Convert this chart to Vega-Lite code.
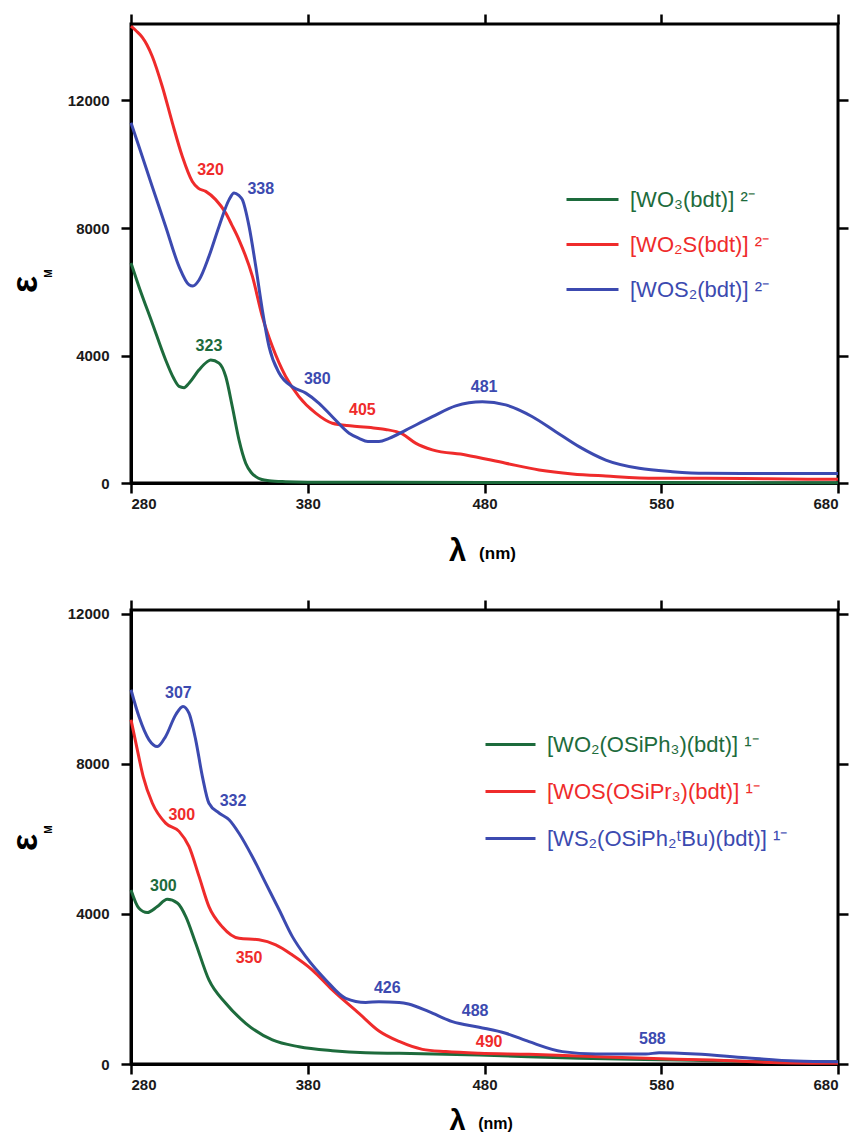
{
  "$schema": "https://vega.github.io/schema/vega-lite/v6.json",
  "padding": {"left": 5, "top": 11, "right": 0, "bottom": 0},
  "background": "white",
  "spacing": 29,
  "datasets": {
    "topCurves": [
      {"s": "[WO₃(bdt)]   ²⁻", "wl": 280, "eps": 6900}, {"s": "[WO₃(bdt)]   ²⁻", "wl": 284.5, "eps": 6160}, {"s": "[WO₃(bdt)]   ²⁻", "wl": 292, "eps": 5020}, {"s": "[WO₃(bdt)]   ²⁻", "wl": 299.6, "eps": 3860}, {"s": "[WO₃(bdt)]   ²⁻", "wl": 304, "eps": 3300}, {"s": "[WO₃(bdt)]   ²⁻", "wl": 307.2, "eps": 3030}, {"s": "[WO₃(bdt)]   ²⁻", "wl": 310, "eps": 2990}, {"s": "[WO₃(bdt)]   ²⁻", "wl": 312.8, "eps": 3130}, {"s": "[WO₃(bdt)]   ²⁻", "wl": 318.5, "eps": 3550}, {"s": "[WO₃(bdt)]   ²⁻", "wl": 323, "eps": 3800}, {"s": "[WO₃(bdt)]   ²⁻", "wl": 325.1, "eps": 3860}, {"s": "[WO₃(bdt)]   ²⁻", "wl": 329.8, "eps": 3760}, {"s": "[WO₃(bdt)]   ²⁻", "wl": 333.6, "eps": 3340}, {"s": "[WO₃(bdt)]   ²⁻", "wl": 337.3, "eps": 2400}, {"s": "[WO₃(bdt)]   ²⁻", "wl": 341.1, "eps": 1350}, {"s": "[WO₃(bdt)]   ²⁻", "wl": 344.9, "eps": 620}, {"s": "[WO₃(bdt)]   ²⁻", "wl": 348, "eps": 330}, {"s": "[WO₃(bdt)]   ²⁻", "wl": 350.6, "eps": 200}, {"s": "[WO₃(bdt)]   ²⁻", "wl": 354, "eps": 110}, {"s": "[WO₃(bdt)]   ²⁻", "wl": 358.1, "eps": 72}, {"s": "[WO₃(bdt)]   ²⁻", "wl": 367.5, "eps": 40}, {"s": "[WO₃(bdt)]   ²⁻", "wl": 380, "eps": 25}, {"s": "[WO₃(bdt)]   ²⁻", "wl": 420, "eps": 20}, {"s": "[WO₃(bdt)]   ²⁻", "wl": 480, "eps": 15}, {"s": "[WO₃(bdt)]   ²⁻", "wl": 580, "eps": 12}, {"s": "[WO₃(bdt)]   ²⁻", "wl": 680, "eps": 10},
      {"s": "[WO₂S(bdt)]   ²⁻", "wl": 280, "eps": 14330}, {"s": "[WO₂S(bdt)]   ²⁻", "wl": 283, "eps": 14180}, {"s": "[WO₂S(bdt)]   ²⁻", "wl": 286.4, "eps": 13980}, {"s": "[WO₂S(bdt)]   ²⁻", "wl": 289, "eps": 13750}, {"s": "[WO₂S(bdt)]   ²⁻", "wl": 292, "eps": 13390}, {"s": "[WO₂S(bdt)]   ²⁻", "wl": 297.7, "eps": 12440}, {"s": "[WO₂S(bdt)]   ²⁻", "wl": 303.4, "eps": 11300}, {"s": "[WO₂S(bdt)]   ²⁻", "wl": 309, "eps": 10250}, {"s": "[WO₂S(bdt)]   ²⁻", "wl": 314.7, "eps": 9460}, {"s": "[WO₂S(bdt)]   ²⁻", "wl": 318, "eps": 9250}, {"s": "[WO₂S(bdt)]   ²⁻", "wl": 322.3, "eps": 9150}, {"s": "[WO₂S(bdt)]   ²⁻", "wl": 327.9, "eps": 8890}, {"s": "[WO₂S(bdt)]   ²⁻", "wl": 333.6, "eps": 8470}, {"s": "[WO₂S(bdt)]   ²⁻", "wl": 337, "eps": 8100}, {"s": "[WO₂S(bdt)]   ²⁻", "wl": 341.1, "eps": 7630}, {"s": "[WO₂S(bdt)]   ²⁻", "wl": 348.7, "eps": 6480}, {"s": "[WO₂S(bdt)]   ²⁻", "wl": 354.3, "eps": 5220}, {"s": "[WO₂S(bdt)]   ²⁻", "wl": 360, "eps": 4280}, {"s": "[WO₂S(bdt)]   ²⁻", "wl": 367.5, "eps": 3340}, {"s": "[WO₂S(bdt)]   ²⁻", "wl": 375, "eps": 2710}, {"s": "[WO₂S(bdt)]   ²⁻", "wl": 384.5, "eps": 2190}, {"s": "[WO₂S(bdt)]   ²⁻", "wl": 393.9, "eps": 1875}, {"s": "[WO₂S(bdt)]   ²⁻", "wl": 405.2, "eps": 1790}, {"s": "[WO₂S(bdt)]   ²⁻", "wl": 418.5, "eps": 1720}, {"s": "[WO₂S(bdt)]   ²⁻", "wl": 424, "eps": 1680}, {"s": "[WO₂S(bdt)]   ²⁻", "wl": 433.5, "eps": 1540}, {"s": "[WO₂S(bdt)]   ²⁻", "wl": 441, "eps": 1250}, {"s": "[WO₂S(bdt)]   ²⁻", "wl": 450.5, "eps": 1040}, {"s": "[WO₂S(bdt)]   ²⁻", "wl": 469.4, "eps": 880}, {"s": "[WO₂S(bdt)]   ²⁻", "wl": 492, "eps": 620}, {"s": "[WO₂S(bdt)]   ²⁻", "wl": 510.9, "eps": 410}, {"s": "[WO₂S(bdt)]   ²⁻", "wl": 529.7, "eps": 285}, {"s": "[WO₂S(bdt)]   ²⁻", "wl": 548.6, "eps": 220}, {"s": "[WO₂S(bdt)]   ²⁻", "wl": 576.9, "eps": 150}, {"s": "[WO₂S(bdt)]   ²⁻", "wl": 605.2, "eps": 148}, {"s": "[WO₂S(bdt)]   ²⁻", "wl": 640, "eps": 130}, {"s": "[WO₂S(bdt)]   ²⁻", "wl": 680, "eps": 116},
      {"s": "[WOS₂(bdt)]   ²⁻", "wl": 280, "eps": 11300}, {"s": "[WOS₂(bdt)]   ²⁻", "wl": 284.5, "eps": 10560}, {"s": "[WOS₂(bdt)]   ²⁻", "wl": 292, "eps": 9300}, {"s": "[WOS₂(bdt)]   ²⁻", "wl": 299.6, "eps": 8050}, {"s": "[WOS₂(bdt)]   ²⁻", "wl": 307.2, "eps": 6790}, {"s": "[WOS₂(bdt)]   ²⁻", "wl": 312.8, "eps": 6220}, {"s": "[WOS₂(bdt)]   ²⁻", "wl": 315, "eps": 6180}, {"s": "[WOS₂(bdt)]   ²⁻", "wl": 318.5, "eps": 6370}, {"s": "[WOS₂(bdt)]   ²⁻", "wl": 324.1, "eps": 7110}, {"s": "[WOS₂(bdt)]   ²⁻", "wl": 329.8, "eps": 8050}, {"s": "[WOS₂(bdt)]   ²⁻", "wl": 335.5, "eps": 8890}, {"s": "[WOS₂(bdt)]   ²⁻", "wl": 338.3, "eps": 9100}, {"s": "[WOS₂(bdt)]   ²⁻", "wl": 341, "eps": 9020}, {"s": "[WOS₂(bdt)]   ²⁻", "wl": 343, "eps": 8890}, {"s": "[WOS₂(bdt)]   ²⁻", "wl": 346.8, "eps": 8050}, {"s": "[WOS₂(bdt)]   ²⁻", "wl": 350.6, "eps": 6790}, {"s": "[WOS₂(bdt)]   ²⁻", "wl": 354.3, "eps": 5430}, {"s": "[WOS₂(bdt)]   ²⁻", "wl": 358.1, "eps": 4280}, {"s": "[WOS₂(bdt)]   ²⁻", "wl": 363.8, "eps": 3450}, {"s": "[WOS₂(bdt)]   ²⁻", "wl": 371.3, "eps": 3020}, {"s": "[WOS₂(bdt)]   ²⁻", "wl": 378.9, "eps": 2820}, {"s": "[WOS₂(bdt)]   ²⁻", "wl": 386.4, "eps": 2500}, {"s": "[WOS₂(bdt)]   ²⁻", "wl": 393.9, "eps": 2080}, {"s": "[WOS₂(bdt)]   ²⁻", "wl": 403.4, "eps": 1560}, {"s": "[WOS₂(bdt)]   ²⁻", "wl": 409, "eps": 1400}, {"s": "[WOS₂(bdt)]   ²⁻", "wl": 414, "eps": 1300}, {"s": "[WOS₂(bdt)]   ²⁻", "wl": 420.3, "eps": 1300}, {"s": "[WOS₂(bdt)]   ²⁻", "wl": 426, "eps": 1400}, {"s": "[WOS₂(bdt)]   ²⁻", "wl": 435.5, "eps": 1660}, {"s": "[WOS₂(bdt)]   ²⁻", "wl": 450.5, "eps": 2080}, {"s": "[WOS₂(bdt)]   ²⁻", "wl": 463.7, "eps": 2420}, {"s": "[WOS₂(bdt)]   ²⁻", "wl": 478.8, "eps": 2550}, {"s": "[WOS₂(bdt)]   ²⁻", "wl": 492, "eps": 2450}, {"s": "[WOS₂(bdt)]   ²⁻", "wl": 507.1, "eps": 2080}, {"s": "[WOS₂(bdt)]   ²⁻", "wl": 520.3, "eps": 1610}, {"s": "[WOS₂(bdt)]   ²⁻", "wl": 533.5, "eps": 1140}, {"s": "[WOS₂(bdt)]   ²⁻", "wl": 548.6, "eps": 720}, {"s": "[WOS₂(bdt)]   ²⁻", "wl": 567.5, "eps": 460}, {"s": "[WOS₂(bdt)]   ²⁻", "wl": 586.3, "eps": 355}, {"s": "[WOS₂(bdt)]   ²⁻", "wl": 605.2, "eps": 305}, {"s": "[WOS₂(bdt)]   ²⁻", "wl": 642.9, "eps": 300}, {"s": "[WOS₂(bdt)]   ²⁻", "wl": 680, "eps": 300}
    ],
    "topLabels": [
      {"s": "[WO₂S(bdt)]   ²⁻", "t": "320", "wl": 325, "eps": 9830},
      {"s": "[WOS₂(bdt)]   ²⁻", "t": "338", "wl": 353.4, "eps": 9220},
      {"s": "[WO₃(bdt)]   ²⁻", "t": "323", "wl": 324.1, "eps": 4310},
      {"s": "[WOS₂(bdt)]   ²⁻", "t": "380", "wl": 385.4, "eps": 3270},
      {"s": "[WO₂S(bdt)]   ²⁻", "t": "405", "wl": 410.9, "eps": 2290},
      {"s": "[WOS₂(bdt)]   ²⁻", "t": "481", "wl": 479.8, "eps": 3005}
    ],
    "bottomCurves": [
      {"s": "[WO₂(OSiPh₃)(bdt)]   ¹⁻", "wl": 280, "eps": 4640}, {"s": "[WO₂(OSiPh₃)(bdt)]   ¹⁻", "wl": 284.5, "eps": 4150}, {"s": "[WO₂(OSiPh₃)(bdt)]   ¹⁻", "wl": 289.2, "eps": 4035}, {"s": "[WO₂(OSiPh₃)(bdt)]   ¹⁻", "wl": 294.9, "eps": 4195}, {"s": "[WO₂(OSiPh₃)(bdt)]   ¹⁻", "wl": 300.5, "eps": 4390}, {"s": "[WO₂(OSiPh₃)(bdt)]   ¹⁻", "wl": 306.2, "eps": 4290}, {"s": "[WO₂(OSiPh₃)(bdt)]   ¹⁻", "wl": 311, "eps": 3930}, {"s": "[WO₂(OSiPh₃)(bdt)]   ¹⁻", "wl": 316.6, "eps": 3220}, {"s": "[WO₂(OSiPh₃)(bdt)]   ¹⁻", "wl": 324.1, "eps": 2240}, {"s": "[WO₂(OSiPh₃)(bdt)]   ¹⁻", "wl": 333.6, "eps": 1620}, {"s": "[WO₂(OSiPh₃)(bdt)]   ¹⁻", "wl": 344.9, "eps": 1085}, {"s": "[WO₂(OSiPh₃)(bdt)]   ¹⁻", "wl": 360, "eps": 640}, {"s": "[WO₂(OSiPh₃)(bdt)]   ¹⁻", "wl": 375.1, "eps": 460}, {"s": "[WO₂(OSiPh₃)(bdt)]   ¹⁻", "wl": 393.9, "eps": 355}, {"s": "[WO₂(OSiPh₃)(bdt)]   ¹⁻", "wl": 412.8, "eps": 300}, {"s": "[WO₂(OSiPh₃)(bdt)]   ¹⁻", "wl": 431.7, "eps": 285}, {"s": "[WO₂(OSiPh₃)(bdt)]   ¹⁻", "wl": 477, "eps": 240}, {"s": "[WO₂(OSiPh₃)(bdt)]   ¹⁻", "wl": 533.5, "eps": 150}, {"s": "[WO₂(OSiPh₃)(bdt)]   ¹⁻", "wl": 590, "eps": 107}, {"s": "[WO₂(OSiPh₃)(bdt)]   ¹⁻", "wl": 646.7, "eps": 62}, {"s": "[WO₂(OSiPh₃)(bdt)]   ¹⁻", "wl": 680, "eps": 60},
      {"s": "[WOS(OSiPr₃)(bdt)]   ¹⁻", "wl": 280, "eps": 9175}, {"s": "[WOS(OSiPr₃)(bdt)]   ¹⁻", "wl": 283.2, "eps": 8460}, {"s": "[WOS(OSiPr₃)(bdt)]   ¹⁻", "wl": 286.9, "eps": 7660}, {"s": "[WOS(OSiPr₃)(bdt)]   ¹⁻", "wl": 292.1, "eps": 6950}, {"s": "[WOS(OSiPr₃)(bdt)]   ¹⁻", "wl": 299.6, "eps": 6420}, {"s": "[WOS(OSiPr₃)(bdt)]   ¹⁻", "wl": 307.2, "eps": 6200}, {"s": "[WOS(OSiPr₃)(bdt)]   ¹⁻", "wl": 312.8, "eps": 5800}, {"s": "[WOS(OSiPr₃)(bdt)]   ¹⁻", "wl": 318.5, "eps": 5000}, {"s": "[WOS(OSiPr₃)(bdt)]   ¹⁻", "wl": 324.1, "eps": 4195}, {"s": "[WOS(OSiPr₃)(bdt)]   ¹⁻", "wl": 331.6, "eps": 3660}, {"s": "[WOS(OSiPr₃)(bdt)]   ¹⁻", "wl": 341.1, "eps": 3350}, {"s": "[WOS(OSiPr₃)(bdt)]   ¹⁻", "wl": 352.4, "eps": 3310}, {"s": "[WOS(OSiPr₃)(bdt)]   ¹⁻", "wl": 361.9, "eps": 3175}, {"s": "[WOS(OSiPr₃)(bdt)]   ¹⁻", "wl": 371.3, "eps": 2905}, {"s": "[WOS(OSiPr₃)(bdt)]   ¹⁻", "wl": 382.6, "eps": 2505}, {"s": "[WOS(OSiPr₃)(bdt)]   ¹⁻", "wl": 393.9, "eps": 1975}, {"s": "[WOS(OSiPr₃)(bdt)]   ¹⁻", "wl": 409, "eps": 1350}, {"s": "[WOS(OSiPr₃)(bdt)]   ¹⁻", "wl": 420.3, "eps": 880}, {"s": "[WOS(OSiPr₃)(bdt)]   ¹⁻", "wl": 431.7, "eps": 600}, {"s": "[WOS(OSiPr₃)(bdt)]   ¹⁻", "wl": 444.9, "eps": 390}, {"s": "[WOS(OSiPr₃)(bdt)]   ¹⁻", "wl": 458.1, "eps": 330}, {"s": "[WOS(OSiPr₃)(bdt)]   ¹⁻", "wl": 477, "eps": 285}, {"s": "[WOS(OSiPr₃)(bdt)]   ¹⁻", "wl": 505.2, "eps": 260}, {"s": "[WOS(OSiPr₃)(bdt)]   ¹⁻", "wl": 533.5, "eps": 215}, {"s": "[WOS(OSiPr₃)(bdt)]   ¹⁻", "wl": 571.3, "eps": 150}, {"s": "[WOS(OSiPr₃)(bdt)]   ¹⁻", "wl": 609, "eps": 105}, {"s": "[WOS(OSiPr₃)(bdt)]   ¹⁻", "wl": 646.7, "eps": 35}, {"s": "[WOS(OSiPr₃)(bdt)]   ¹⁻", "wl": 680, "eps": 20},
      {"s": "[WS₂(OSiPh₂ᵗBu)(bdt)]   ¹⁻", "wl": 280, "eps": 9975}, {"s": "[WS₂(OSiPh₂ᵗBu)(bdt)]   ¹⁻", "wl": 284.5, "eps": 9260}, {"s": "[WS₂(OSiPh₂ᵗBu)(bdt)]   ¹⁻", "wl": 290.2, "eps": 8640}, {"s": "[WS₂(OSiPh₂ᵗBu)(bdt)]   ¹⁻", "wl": 294.9, "eps": 8460}, {"s": "[WS₂(OSiPh₂ᵗBu)(bdt)]   ¹⁻", "wl": 299.6, "eps": 8730}, {"s": "[WS₂(OSiPh₂ᵗBu)(bdt)]   ¹⁻", "wl": 305.3, "eps": 9310}, {"s": "[WS₂(OSiPh₂ᵗBu)(bdt)]   ¹⁻", "wl": 309.4, "eps": 9530}, {"s": "[WS₂(OSiPh₂ᵗBu)(bdt)]   ¹⁻", "wl": 312.8, "eps": 9350}, {"s": "[WS₂(OSiPh₂ᵗBu)(bdt)]   ¹⁻", "wl": 316.6, "eps": 8640}, {"s": "[WS₂(OSiPh₂ᵗBu)(bdt)]   ¹⁻", "wl": 320.4, "eps": 7660}, {"s": "[WS₂(OSiPh₂ᵗBu)(bdt)]   ¹⁻", "wl": 324.1, "eps": 6950}, {"s": "[WS₂(OSiPh₂ᵗBu)(bdt)]   ¹⁻", "wl": 329.8, "eps": 6690}, {"s": "[WS₂(OSiPh₂ᵗBu)(bdt)]   ¹⁻", "wl": 335.5, "eps": 6510}, {"s": "[WS₂(OSiPh₂ᵗBu)(bdt)]   ¹⁻", "wl": 341.1, "eps": 6150}, {"s": "[WS₂(OSiPh₂ᵗBu)(bdt)]   ¹⁻", "wl": 348.6, "eps": 5530}, {"s": "[WS₂(OSiPh₂ᵗBu)(bdt)]   ¹⁻", "wl": 356.2, "eps": 4820}, {"s": "[WS₂(OSiPh₂ᵗBu)(bdt)]   ¹⁻", "wl": 363.8, "eps": 4110}, {"s": "[WS₂(OSiPh₂ᵗBu)(bdt)]   ¹⁻", "wl": 371.3, "eps": 3395}, {"s": "[WS₂(OSiPh₂ᵗBu)(bdt)]   ¹⁻", "wl": 378.9, "eps": 2860}, {"s": "[WS₂(OSiPh₂ᵗBu)(bdt)]   ¹⁻", "wl": 390.2, "eps": 2240}, {"s": "[WS₂(OSiPh₂ᵗBu)(bdt)]   ¹⁻", "wl": 401.5, "eps": 1750}, {"s": "[WS₂(OSiPh₂ᵗBu)(bdt)]   ¹⁻", "wl": 412.8, "eps": 1640}, {"s": "[WS₂(OSiPh₂ᵗBu)(bdt)]   ¹⁻", "wl": 420.3, "eps": 1660}, {"s": "[WS₂(OSiPh₂ᵗBu)(bdt)]   ¹⁻", "wl": 431.7, "eps": 1640}, {"s": "[WS₂(OSiPh₂ᵗBu)(bdt)]   ¹⁻", "wl": 437, "eps": 1600}, {"s": "[WS₂(OSiPh₂ᵗBu)(bdt)]   ¹⁻", "wl": 448.6, "eps": 1395}, {"s": "[WS₂(OSiPh₂ᵗBu)(bdt)]   ¹⁻", "wl": 461.8, "eps": 1130}, {"s": "[WS₂(OSiPh₂ᵗBu)(bdt)]   ¹⁻", "wl": 477, "eps": 980}, {"s": "[WS₂(OSiPh₂ᵗBu)(bdt)]   ¹⁻", "wl": 492, "eps": 820}, {"s": "[WS₂(OSiPh₂ᵗBu)(bdt)]   ¹⁻", "wl": 505.2, "eps": 595}, {"s": "[WS₂(OSiPh₂ᵗBu)(bdt)]   ¹⁻", "wl": 524.1, "eps": 330}, {"s": "[WS₂(OSiPh₂ᵗBu)(bdt)]   ¹⁻", "wl": 543, "eps": 267}, {"s": "[WS₂(OSiPh₂ᵗBu)(bdt)]   ¹⁻", "wl": 571.3, "eps": 267}, {"s": "[WS₂(OSiPh₂ᵗBu)(bdt)]   ¹⁻", "wl": 578.8, "eps": 300}, {"s": "[WS₂(OSiPh₂ᵗBu)(bdt)]   ¹⁻", "wl": 599.6, "eps": 267}, {"s": "[WS₂(OSiPh₂ᵗBu)(bdt)]   ¹⁻", "wl": 627.9, "eps": 168}, {"s": "[WS₂(OSiPh₂ᵗBu)(bdt)]   ¹⁻", "wl": 656.2, "eps": 80}, {"s": "[WS₂(OSiPh₂ᵗBu)(bdt)]   ¹⁻", "wl": 680, "eps": 60}
    ],
    "bottomLabels": [
      {"s": "[WS₂(OSiPh₂ᵗBu)(bdt)]   ¹⁻", "t": "307", "wl": 306.8, "eps": 9885},
      {"s": "[WS₂(OSiPh₂ᵗBu)(bdt)]   ¹⁻", "t": "332", "wl": 337.7, "eps": 7020},
      {"s": "[WOS(OSiPr₃)(bdt)]   ¹⁻", "t": "300", "wl": 308.7, "eps": 6640},
      {"s": "[WO₂(OSiPh₃)(bdt)]   ¹⁻", "t": "300", "wl": 298.3, "eps": 4750},
      {"s": "[WOS(OSiPr₃)(bdt)]   ¹⁻", "t": "350", "wl": 346.8, "eps": 2820},
      {"s": "[WS₂(OSiPh₂ᵗBu)(bdt)]   ¹⁻", "t": "426", "wl": 425, "eps": 2020},
      {"s": "[WS₂(OSiPh₂ᵗBu)(bdt)]   ¹⁻", "t": "488", "wl": 474.7, "eps": 1420},
      {"s": "[WOS(OSiPr₃)(bdt)]   ¹⁻", "t": "490", "wl": 482.6, "eps": 580},
      {"s": "[WS₂(OSiPh₂ᵗBu)(bdt)]   ¹⁻", "t": "588", "wl": 575, "eps": 667}
    ]
  },
  "vconcat": [
    {
      "name": "top",
      "width": 707,
      "height": 459,
      "layer": [
        {
          "data": {"name": "topCurves"},
          "mark": {"type": "line", "strokeWidth": 3, "interpolate": "monotone"},
          "encoding": {
            "x": {"field": "wl", "type": "quantitative", "scale": {"domain": [280, 680], "nice": false, "zero": false},
                  "axis": {"orient": "bottom", "values": [280, 380, 480, 580, 680], "labelPadding": 3, "title": "λ", "titleFontSize": 31, "titleFontWeight": "bold", "titleBaseline": "alphabetic", "titleX": 326, "titleY": 77}},
            "y": {"field": "eps", "type": "quantitative", "scale": {"domain": [0, 14400], "nice": false},
                  "axis": {"orient": "left", "values": [0, 4000, 8000, 12000], "format": "d", "labelPadding": 12, "title": "ε", "titleFontSize": 36, "titleFontWeight": "bold", "titleBaseline": "alphabetic", "titleX": -95, "titleY": 260}},
            "color": {"field": "s", "type": "nominal",
                      "scale": {"domain": ["[WO₃(bdt)]   ²⁻", "[WO₂S(bdt)]   ²⁻", "[WOS₂(bdt)]   ²⁻"], "range": ["#1d6b3c", "#ef2b2b", "#3c4ab0"]},
                      "legend": {"orient": "none", "legendX": 434, "legendY": 148, "title": null, "symbolType": "stroke", "symbolSize": 2704, "symbolStrokeWidth": 3, "labelFont": "Liberation Sans", "labelFontSize": 22, "labelOffset": 10, "rowPadding": 6, "labelLimit": 400,
                                 "encode": {"labels": {"update": {"fill": {"scale": "top_color", "field": "value"}}}}}}
          }
        },
        {
          "data": {"name": "topLabels"},
          "transform": [{"filter": "datum.s !== '[WOS₂(bdt)]   ²⁻'"}],
          "mark": {"type": "text", "font": "Liberation Sans", "fontWeight": "bold", "fontSize": 16, "align": "center", "baseline": "middle"},
          "encoding": {
            "x": {"field": "wl", "type": "quantitative", "axis": {"orient": "top", "values": [280, 380, 480, 580, 680], "labels": false, "domain": false, "title": null}},
            "y": {"field": "eps", "type": "quantitative", "axis": {"orient": "right", "values": [0, 4000, 8000, 12000], "labels": false, "domain": false, "title": null}},
            "text": {"field": "t"},
            "color": {"field": "s", "type": "nominal", "legend": null}
          }
        },
        {
          "data": {"name": "topLabels"},
          "transform": [{"filter": "datum.s === '[WOS₂(bdt)]   ²⁻'"}],
          "mark": {"type": "text", "font": "Liberation Sans", "fontWeight": "bold", "fontSize": 16, "align": "center", "baseline": "middle"},
          "encoding": {
            "x": {"field": "wl", "type": "quantitative", "axis": {"orient": "bottom", "labels": false, "ticks": false, "domain": false, "title": "(nm)", "titleFontSize": 17, "titleFontWeight": "bold", "titleBaseline": "alphabetic", "titleX": 366, "titleY": 75}},
            "y": {"field": "eps", "type": "quantitative", "axis": {"orient": "left", "labels": false, "ticks": false, "domain": false, "title": "M", "titleFontSize": 10, "titleFontWeight": "bold", "titleBaseline": "alphabetic", "titleX": -80, "titleY": 249}},
            "text": {"field": "t"},
            "color": {"field": "s", "type": "nominal", "legend": null}
          }
        }
      ],
      "resolve": {"axis": {"x": "independent", "y": "independent"}}
    },
    {
      "name": "bottom",
      "width": 707,
      "height": 454,
      "layer": [
        {
          "data": {"name": "bottomCurves"},
          "mark": {"type": "line", "strokeWidth": 3, "interpolate": "monotone"},
          "encoding": {
            "x": {"field": "wl", "type": "quantitative", "scale": {"domain": [280, 680], "nice": false, "zero": false},
                  "axis": {"orient": "bottom", "values": [280, 380, 480, 580, 680], "labelPadding": 3, "title": "λ", "titleFontSize": 29, "titleFontWeight": "bold", "titleBaseline": "alphabetic", "titleX": 326, "titleY": 65}},
            "y": {"field": "eps", "type": "quantitative", "scale": {"domain": [0, 12100], "nice": false},
                  "axis": {"orient": "left", "values": [0, 4000, 8000, 12000], "format": "d", "labelPadding": 12, "title": "ε", "titleFontSize": 36, "titleFontWeight": "bold", "titleBaseline": "alphabetic", "titleX": -95, "titleY": 232}},
            "color": {"field": "s", "type": "nominal",
                      "scale": {"domain": ["[WO₂(OSiPh₃)(bdt)]   ¹⁻", "[WOS(OSiPr₃)(bdt)]   ¹⁻", "[WS₂(OSiPh₂ᵗBu)(bdt)]   ¹⁻"], "range": ["#1d6b3c", "#ef2b2b", "#3c4ab0"]},
                      "legend": {"orient": "none", "legendX": 353, "legendY": 108, "title": null, "symbolType": "stroke", "symbolSize": 2500, "symbolStrokeWidth": 3, "labelFont": "Liberation Sans", "labelFontSize": 22, "labelOffset": 10, "rowPadding": 9, "labelLimit": 400,
                                 "encode": {"labels": {"update": {"fill": {"scale": "bottom_color", "field": "value"}}}}}}
          }
        },
        {
          "data": {"name": "bottomLabels"},
          "transform": [{"filter": "datum.s !== '[WS₂(OSiPh₂ᵗBu)(bdt)]   ¹⁻'"}],
          "mark": {"type": "text", "font": "Liberation Sans", "fontWeight": "bold", "fontSize": 16, "align": "center", "baseline": "middle"},
          "encoding": {
            "x": {"field": "wl", "type": "quantitative", "axis": {"orient": "top", "values": [280, 380, 480, 580, 680], "labels": false, "domain": false, "title": null}},
            "y": {"field": "eps", "type": "quantitative", "axis": {"orient": "right", "values": [0, 4000, 8000, 12000], "labels": false, "domain": false, "title": null}},
            "text": {"field": "t"},
            "color": {"field": "s", "type": "nominal", "legend": null}
          }
        },
        {
          "data": {"name": "bottomLabels"},
          "transform": [{"filter": "datum.s === '[WS₂(OSiPh₂ᵗBu)(bdt)]   ¹⁻'"}],
          "mark": {"type": "text", "font": "Liberation Sans", "fontWeight": "bold", "fontSize": 16, "align": "center", "baseline": "middle"},
          "encoding": {
            "x": {"field": "wl", "type": "quantitative", "axis": {"orient": "bottom", "labels": false, "ticks": false, "domain": false, "title": "(nm)", "titleFontSize": 16, "titleFontWeight": "bold", "titleBaseline": "alphabetic", "titleX": 364, "titleY": 64}},
            "y": {"field": "eps", "type": "quantitative", "axis": {"orient": "left", "labels": false, "ticks": false, "domain": false, "title": "M", "titleFontSize": 10, "titleFontWeight": "bold", "titleBaseline": "alphabetic", "titleX": -80, "titleY": 219}},
            "text": {"field": "t"},
            "color": {"field": "s", "type": "nominal", "legend": null}
          }
        }
      ],
      "resolve": {"axis": {"x": "independent", "y": "independent"}}
    }
  ],
  "resolve": {"scale": {"color": "independent"}},
  "config": {
    "font": "Liberation Sans",
    "view": {"stroke": "black", "strokeWidth": 3},
    "axis": {"grid": false, "domainColor": "black", "domainWidth": 3, "tickColor": "black", "tickWidth": 2.5, "tickSize": 10, "labelFont": "Liberation Sans", "labelFontWeight": "bold", "labelFontSize": 15, "labelColor": "#1a1a1a", "titleFont": "Liberation Sans", "titleColor": "black"}
  }
}
